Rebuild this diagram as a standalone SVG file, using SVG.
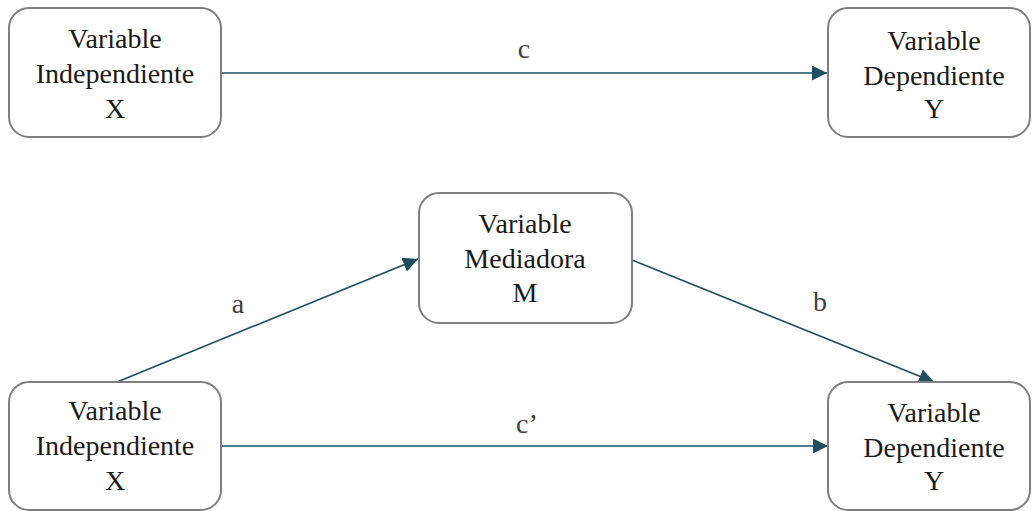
<svg xmlns="http://www.w3.org/2000/svg" width="1033" height="511" viewBox="0 0 1033 511">
<style>
.box{fill:#fff;stroke:#7f7f7f;stroke-width:2}
text{font-family:"Liberation Serif","DejaVu Serif","Noto Serif",serif}
.t{font-size:28px;fill:#1a1a1a;text-anchor:middle}
.lbl{font-size:28px;fill:#404040;text-anchor:middle}
.ln{stroke:#1f4e60;stroke-width:1.6;fill:none;marker-end:url(#ah)}
</style>
<defs>
<marker id="ah" viewBox="0 0 10 10" refX="10" refY="5" markerWidth="15" markerHeight="15" markerUnits="userSpaceOnUse" orient="auto">
<path d="M0,0 L10,5 L0,10 z" fill="#1f4e60"/>
</marker>
</defs>
<g id="connectors">
<line x1="221" y1="73" x2="827" y2="73" class="ln"/>
<line x1="117" y1="382" x2="418" y2="259" class="ln"/>
<line x1="632" y1="260" x2="934" y2="382" class="ln"/>
<line x1="221" y1="446" x2="828" y2="446" class="ln"/>
<text class="lbl" x="524" y="58">c</text>
<text class="lbl" x="238" y="313">a</text>
<text class="lbl" x="820" y="311">b</text>
<text class="lbl" x="527" y="433">c’</text>
</g>
<g id="x-top">
<rect class="box" x="9" y="8" width="212" height="129" rx="20"/>
<text class="t" x="115" y="48">Variable</text>
<text class="t" x="115" y="83">Independiente</text>
<text class="t" x="115" y="118">X</text>
</g>
<g id="y-top">
<rect class="box" x="828" y="8" width="202" height="129" rx="20"/>
<text class="t" x="934" y="50">Variable</text>
<text class="t" x="934" y="85">Dependiente</text>
<text class="t" x="934" y="118">Y</text>
</g>
<g id="m">
<rect class="box" x="419" y="193" width="213" height="130" rx="20"/>
<text class="t" x="525" y="233">Variable</text>
<text class="t" x="525" y="268">Mediadora</text>
<text class="t" x="525" y="302">M</text>
</g>
<g id="x-bottom">
<rect class="box" x="9" y="382" width="212" height="128" rx="20"/>
<text class="t" x="115" y="420">Variable</text>
<text class="t" x="115" y="455">Independiente</text>
<text class="t" x="115" y="490">X</text>
</g>
<g id="y-bottom">
<rect class="box" x="828" y="382" width="202" height="128" rx="20"/>
<text class="t" x="934" y="422">Variable</text>
<text class="t" x="934" y="457">Dependiente</text>
<text class="t" x="934" y="490">Y</text>
</g>
</svg>
